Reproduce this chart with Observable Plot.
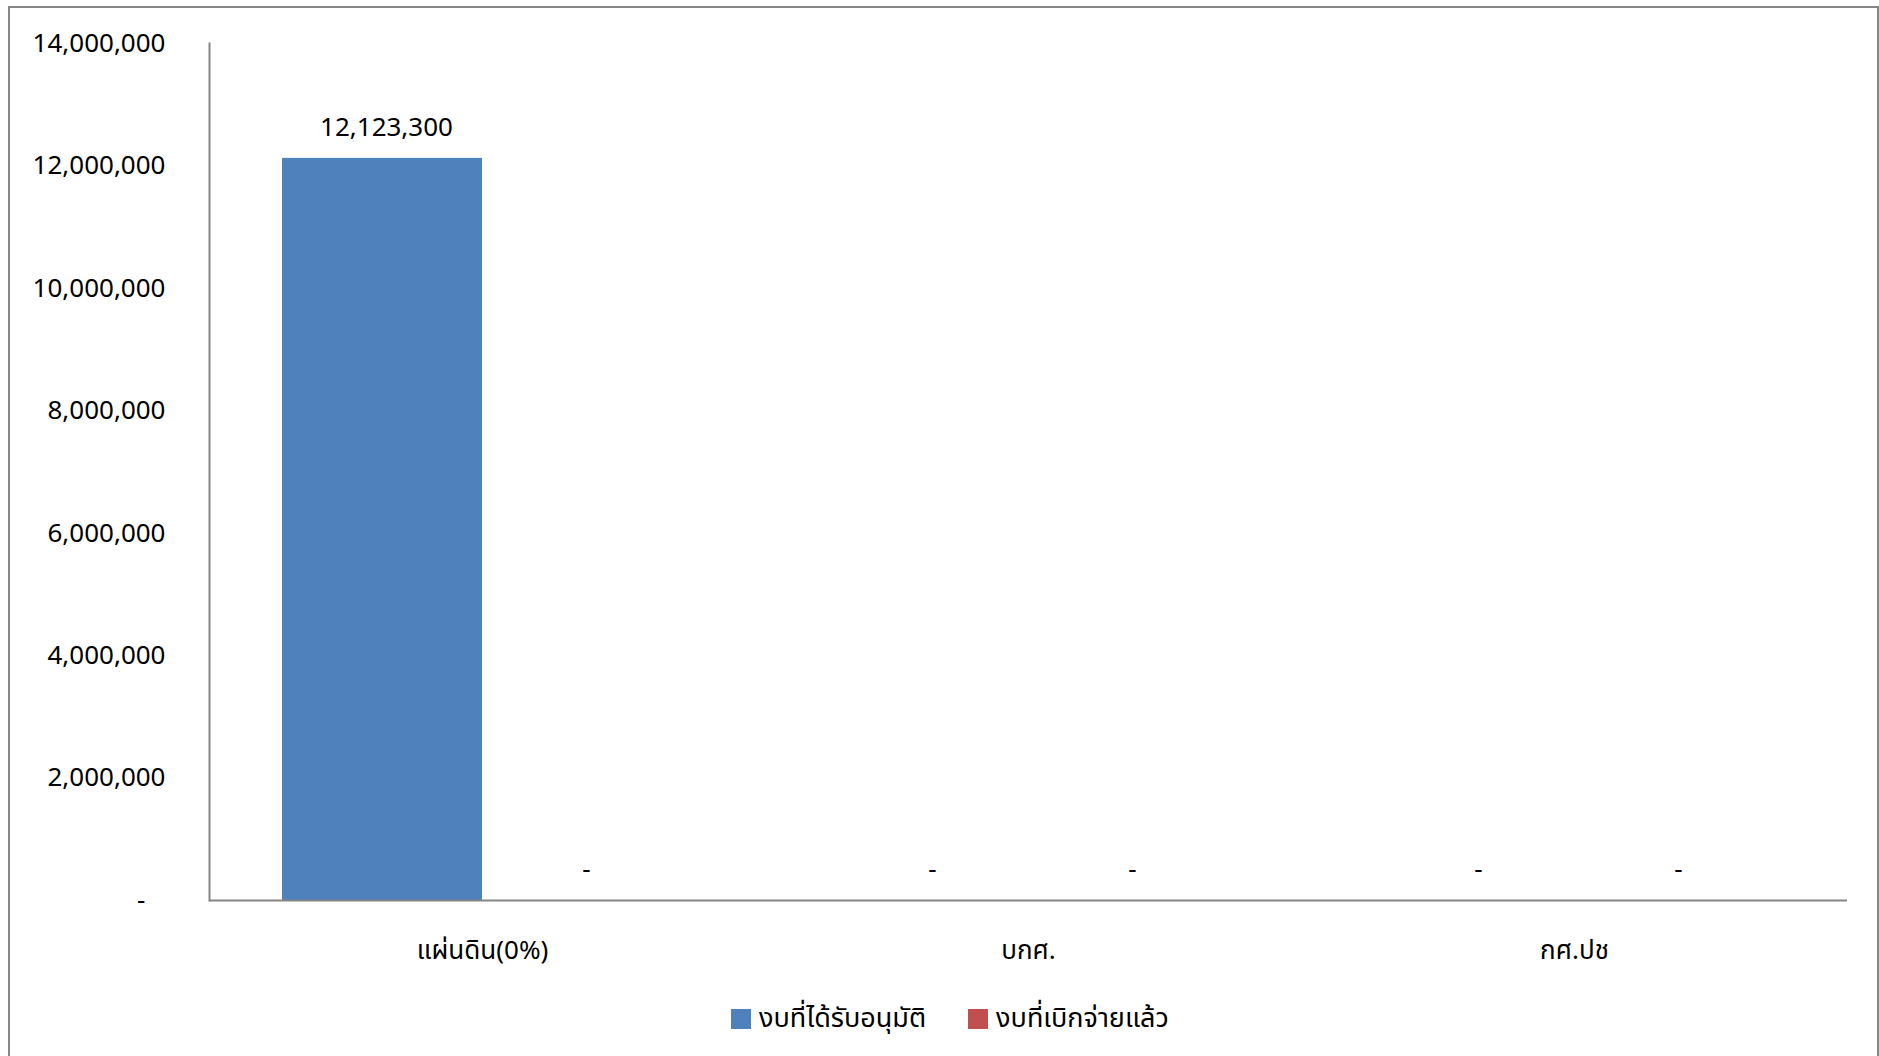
<!DOCTYPE html>
<html>
<head>
<meta charset="utf-8">
<script src="https://cdn.jsdelivr.net/npm/d3@7"></script>
<script src="https://cdn.jsdelivr.net/npm/@observablehq/plot@0.6"></script>
<style>
html,body{margin:0;padding:0;overflow:hidden;background:#fff;width:1879px;height:1056px;}
#frame{position:absolute;left:8px;top:6px;width:1871px;height:1100px;border:2px solid #878787;box-sizing:border-box;}
#chart{position:absolute;left:0;top:0;}
#legend{position:absolute;left:731px;top:998px;display:flex;align-items:center;font-family:"Noto Sans Thai","Noto Sans",sans-serif;font-size:27px;color:#000;white-space:nowrap;}
#legend .item{display:flex;align-items:center;margin-right:42px;}
#legend .sw{width:20px;height:20px;margin-right:8px;}
</style>
</head>
<body>
<div id="frame"></div>
<div id="chart"></div>
<div id="legend"></div>
<script>
const categories = ["แผ่นดิน(0%)", "บกศ.", "กศ.ปช"];
const seriesNames = ["งบที่ได้รับอนุมัติ", "งบที่เบิกจ่ายแล้ว"];
const approved = [12123300, 0, 0];
const disbursed = [0, 0, 0];
const seriesColors = ["#4F81BD", "#C0504D"];
const yTicks = [0, 2000000, 4000000, 6000000, 8000000, 10000000, 12000000, 14000000];

const rows = categories.flatMap((c, i) => [
  {cat: c, series: seriesNames[0], value: approved[i]},
  {cat: c, series: seriesNames[1], value: disbursed[i]}
]);
const fmt = v => v === 0 ? "-" : d3.format(",")(v);
const FONT = '"Noto Sans Thai","Noto Sans",sans-serif';

const chart = Plot.plot({
  width: 1879,
  height: 980,
  marginLeft: 208,
  marginRight: 31,
  marginTop: 43,
  marginBottom: 80,
  style: {fontFamily: FONT, fontSize: "26px", color: "#000", background: "transparent"},
  fx: {domain: categories, padding: 0, label: null, axis: "bottom", tickSize: 0, tickPadding: 40},
  x: {domain: seriesNames, paddingInner: 0, paddingOuter: 0.365, axis: null},
  y: {domain: [0, 14000000], ticks: yTicks, tickSize: 0, tickPadding: 44, label: null,
      tickFormat: v => v === 0 ? "-\u2007\u2009" : d3.format(",")(v)},
  color: {domain: seriesNames, range: seriesColors},
  marks: [
    Plot.barY(rows, {fx: "cat", x: "series", y: "value", fill: "series"}),
    Plot.text(rows, {fx: "cat", x: "series", y: "value", text: d => fmt(d.value), dy: -31, dx: 4, fontSize: 26, fill: "#000"}),
    Plot.ruleY([0], {stroke: "#868686", strokeWidth: 2}),
    Plot.frame({anchor: "left", facetAnchor: "left", stroke: "#868686", strokeWidth: 2})
  ]
});
document.getElementById("chart").appendChild(chart);

const legend = document.getElementById("legend");
seriesNames.forEach((name, i) => {
  const item = document.createElement("div");
  item.className = "item";
  const sw = document.createElement("div");
  sw.className = "sw";
  sw.style.background = seriesColors[i];
  const t = document.createElement("span");
  t.textContent = name;
  item.appendChild(sw);
  item.appendChild(t);
  legend.appendChild(item);
});
</script>
</body>
</html>
